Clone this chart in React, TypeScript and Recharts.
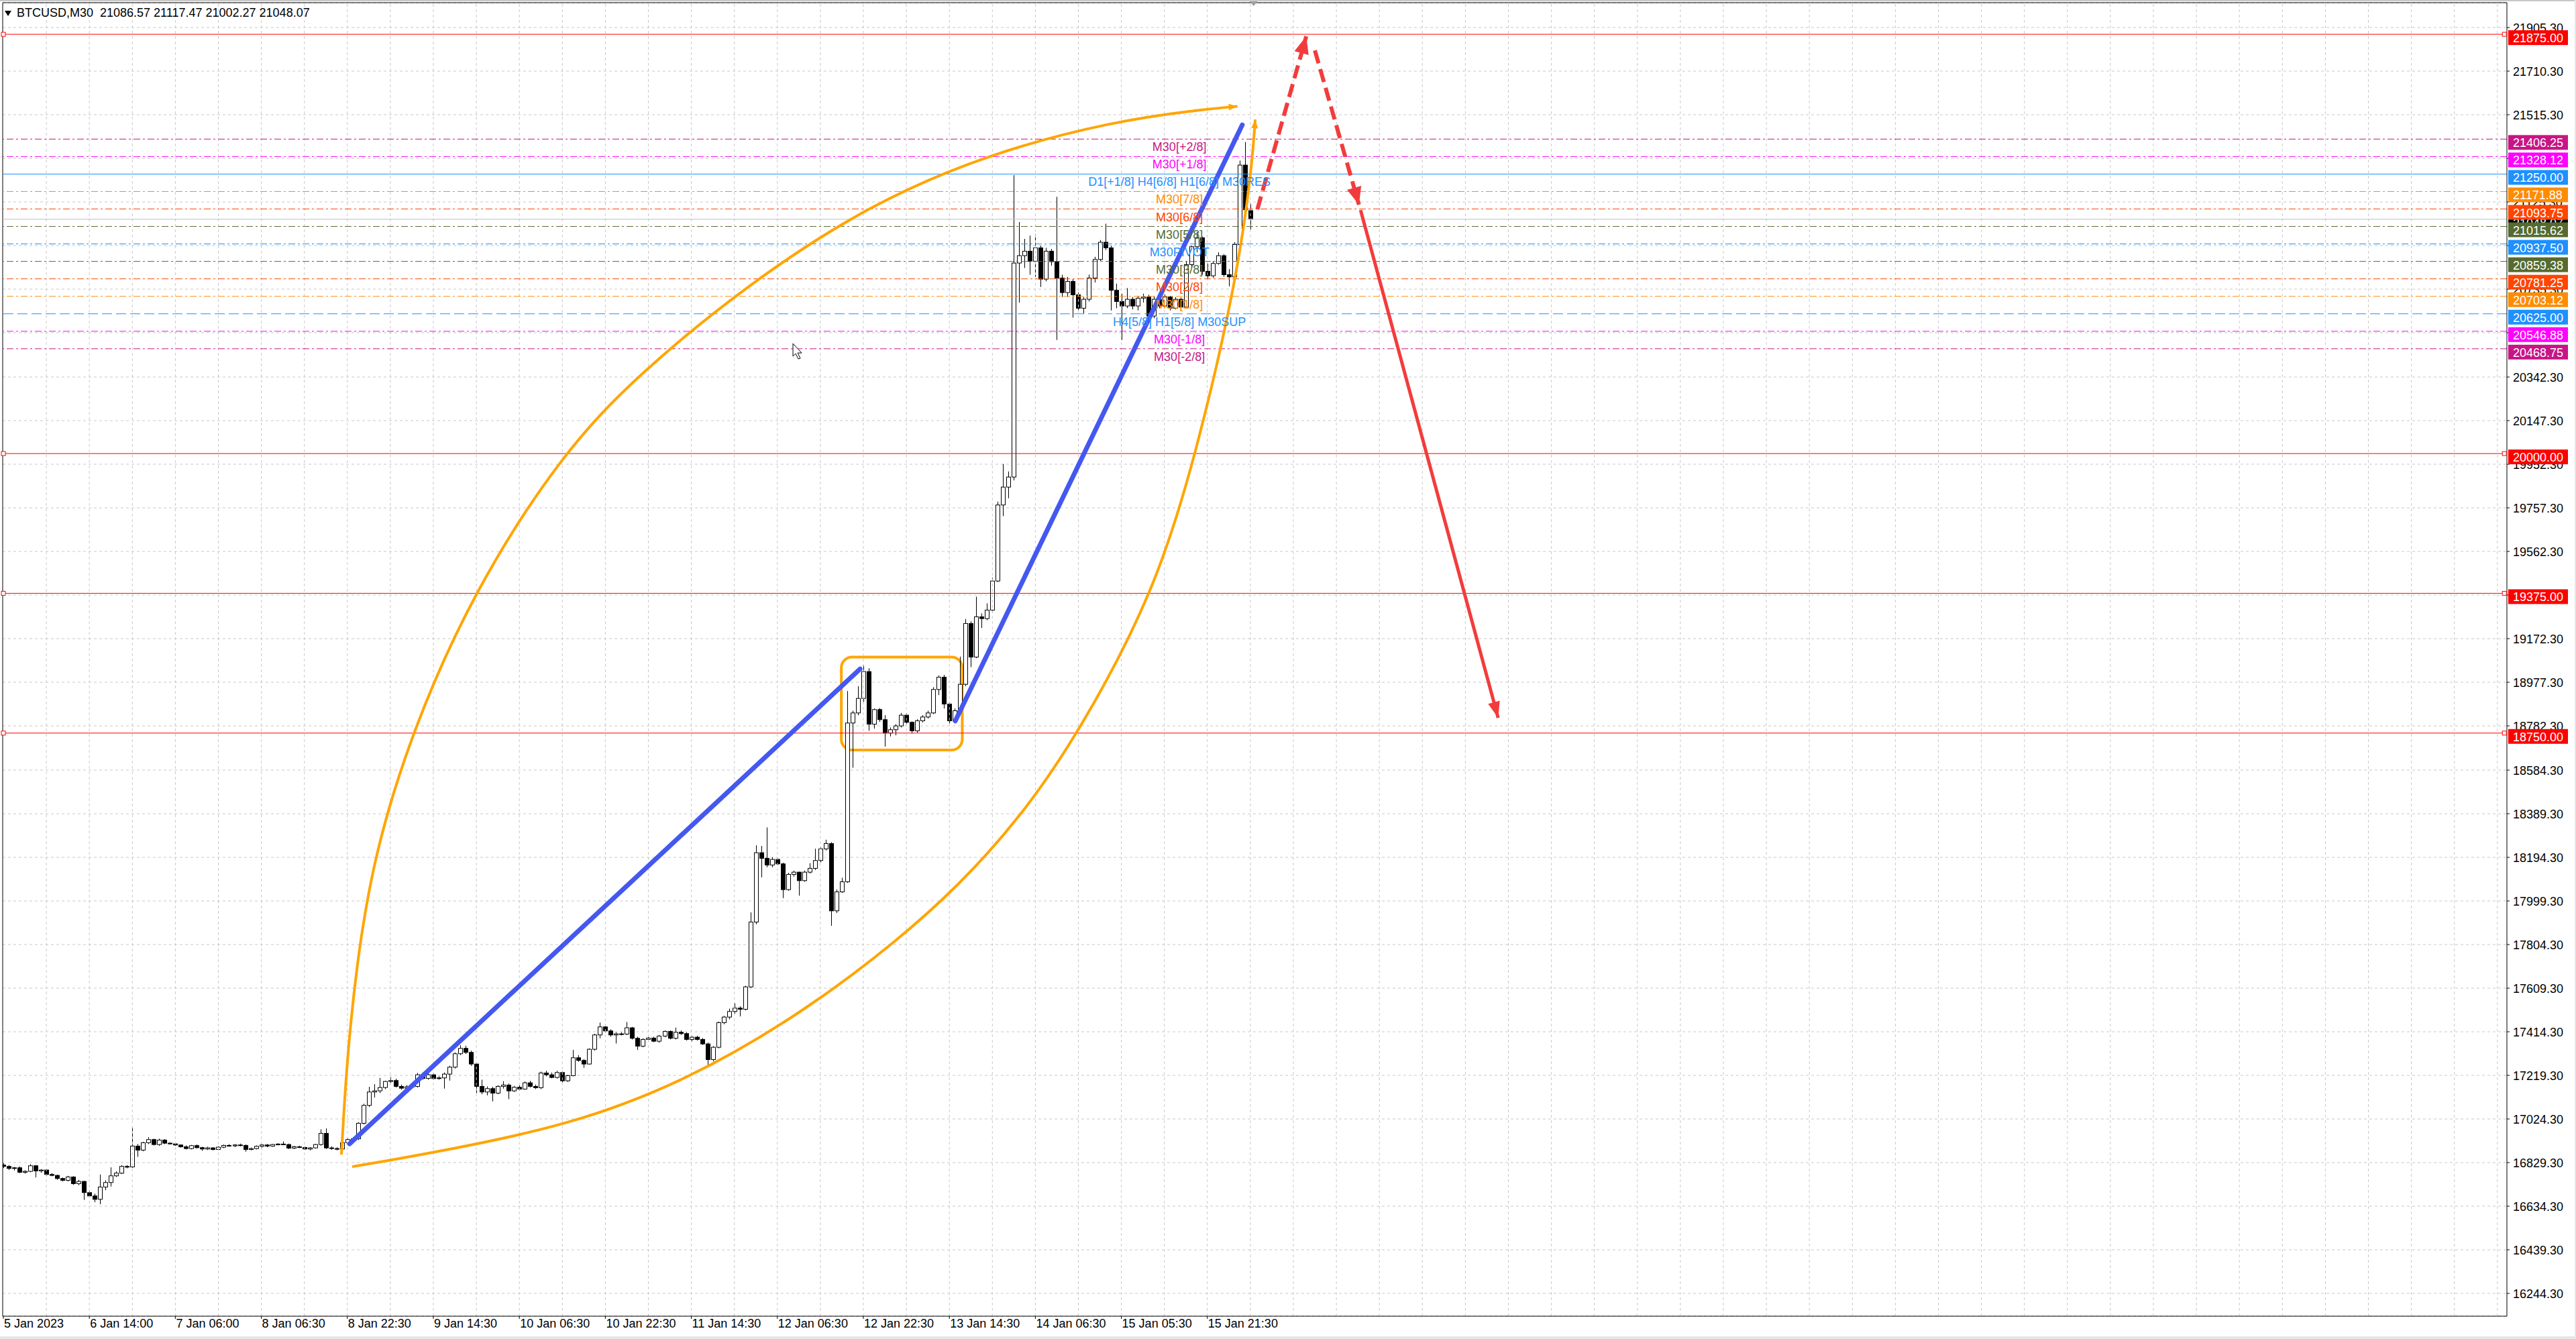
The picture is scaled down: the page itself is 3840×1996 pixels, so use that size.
import React from "react";
import { ComposedChart, Bar, Line, XAxis, YAxis, CartesianGrid, ReferenceLine, ReferenceDot, ReferenceArea } from "recharts";

const W = 3840;
const H = 1996;
const FONT = '"Liberation Sans", Arial, sans-serif';

// bar index axis (1h candles) and price axis
const XMIN = -0.125;
const XMAX = 465.77;
const YMIN = 16142.3;
const YMAX = 22016.3;
const PX_PER_BAR = 8.0125;
const PX_PER_USD = 1 / 3;

// hourly candles: open, high, low, close
const ohlc: number[][] = [
  [16818,16826,16805,16812],[16812,16818,16796,16803],[16803,16810,16794,16806],[16806,16812,16782,16786],[16786,16795,16780,16790],[16790,16822,16786,16815],[16815,16818,16763,16792],[16792,16800,16784,16796],
  [16796,16800,16770,16776],[16776,16782,16768,16772],[16772,16775,16752,16758],[16758,16762,16745,16750],[16750,16770,16745,16765],[16765,16768,16730,16735],[16735,16752,16728,16745],[16745,16748,16662,16695],
  [16695,16705,16676,16680],[16680,16690,16652,16665],[16665,16776,16643,16720],[16720,16750,16706,16740],[16740,16808,16722,16770],[16770,16790,16765,16782],[16782,16818,16778,16812],[16812,16818,16804,16810],
  [16810,16988,16806,16903],[16903,16912,16855,16885],[16885,16922,16880,16918],[16918,16943,16912,16932],[16932,16936,16906,16910],[16910,16936,16904,16930],[16930,16934,16912,16916],[16916,16920,16910,16913],
  [16913,16916,16904,16908],[16908,16910,16896,16900],[16900,16906,16888,16892],[16892,16908,16888,16905],[16905,16910,16892,16896],[16896,16900,16882,16890],[16890,16900,16886,16895],[16895,16898,16884,16888],
  [16888,16902,16885,16898],[16898,16910,16894,16906],[16906,16912,16900,16904],[16904,16912,16898,16908],[16908,16914,16902,16906],[16906,16910,16878,16888],[16888,16896,16884,16892],[16892,16906,16888,16902],
  [16902,16912,16896,16908],[16908,16912,16898,16903],[16903,16912,16900,16910],[16910,16916,16906,16912],[16912,16924,16908,16910],[16910,16914,16890,16894],[16894,16904,16890,16900],[16900,16904,16894,16897],
  [16897,16900,16886,16890],[16890,16898,16884,16895],[16895,16912,16892,16910],[16910,16978,16905,16960],[16960,16982,16890,16895],[16895,16902,16886,16892],[16892,16898,16884,16890],[16890,16922,16886,16918],
  [16918,16938,16912,16932],[16932,16942,16926,16936],[16936,17010,16930,17005],[17005,17092,17000,17085],[17085,17168,17078,17145],[17145,17180,17120,17150],[17150,17208,17140,17165],[17165,17195,17158,17192],
  [17192,17212,17185,17196],[17196,17204,17165,17170],[17170,17178,17155,17162],[17162,17176,17150,17168],[17168,17178,17160,17170],[17170,17230,17165,17222],[17222,17232,17200,17206],[17206,17228,17200,17222],
  [17222,17228,17200,17205],[17205,17215,17200,17208],[17208,17232,17160,17225],[17225,17262,17196,17256],[17256,17322,17250,17316],[17316,17354,17310,17340],[17340,17352,17315,17322],[17322,17330,17262,17270],
  [17270,17275,17140,17170],[17170,17200,17135,17145],[17145,17170,17130,17160],[17160,17168,17103,17140],[17140,17175,17135,17170],[17170,17193,17160,17176],[17176,17182,17113,17150],[17150,17172,17145,17166],
  [17166,17175,17150,17158],[17158,17192,17155,17186],[17186,17195,17165,17170],[17170,17178,17158,17164],[17164,17236,17158,17230],[17230,17240,17215,17222],[17222,17232,17206,17210],[17210,17240,17205,17232],
  [17232,17236,17188,17195],[17195,17222,17190,17218],[17218,17333,17215,17298],[17298,17310,17280,17286],[17286,17292,17253,17270],[17270,17340,17268,17336],[17336,17405,17330,17400],[17400,17455,17385,17436],
  [17436,17442,17412,17418],[17418,17425,17392,17400],[17400,17412,17362,17405],[17405,17412,17398,17404],[17404,17458,17400,17432],[17432,17436,17380,17385],[17385,17392,17333,17350],[17350,17385,17345,17380],
  [17380,17392,17370,17386],[17386,17392,17368,17372],[17372,17400,17365,17395],[17395,17420,17390,17416],[17416,17420,17380,17385],[17385,17433,17380,17412],[17412,17420,17400,17406],[17406,17412,17375,17380],
  [17380,17395,17372,17390],[17390,17396,17375,17380],[17380,17386,17355,17360],[17360,17366,17263,17290],[17290,17350,17282,17345],[17345,17460,17340,17455],[17455,17485,17448,17480],[17480,17518,17470,17505],
  [17505,17542,17495,17520],[17520,17528,17483,17515],[17515,17620,17510,17615],[17615,17948,17610,17905],[17905,18248,17895,18215],[18215,18245,18105,18190],[18190,18328,18150,18160],[18160,18195,18150,18185],
  [18185,18190,18160,18165],[18165,18170,18012,18050],[18050,18125,18045,18118],[18118,18135,18108,18128],[18128,18130,18023,18090],[18090,18135,18085,18128],[18128,18168,18122,18145],[18145,18233,18138,18180],
  [18180,18240,18172,18232],[18232,18273,18225,18256],[18256,18262,17888,17955],[17955,18050,17945,18040],[18040,18103,18035,18085],[18085,18938,18080,18795],[18795,18850,18595,18840],[18840,18960,18830,18905],
  [18905,19053,18890,19025],[19025,19040,18760,18790],[18790,18860,18770,18855],[18855,18862,18800,18810],[18810,18830,18690,18750],[18750,18775,18735,18765],[18765,18790,18740,18782],[18782,18840,18775,18830],
  [18830,18838,18790,18798],[18798,18802,18748,18760],[18760,18812,18752,18805],[18805,18830,18798,18822],[18822,18850,18815,18840],[18840,18955,18835,18945],[18945,19008,18920,19000],[19000,19010,18860,18880],
  [18880,18888,18792,18805],[18805,18860,18800,18850],[18850,19092,18845,18968],[18968,19260,18960,19240],[19240,19250,19045,19090],[19090,19360,19085,19270],[19270,19285,19220,19262],[19262,19330,19255,19300],
  [19300,19445,19290,19430],[19430,19785,19425,19770],[19770,19953,19720,19850],[19850,19920,19800,19895],[19895,21245,19880,20852],[20852,21035,20675,20885],[20885,20960,20830,20905],[20905,20975,20800,20860],
  [20860,20980,20790,20920],[20920,20930,20745,20780],[20780,20920,20770,20905],[20905,20915,20840,20858],[20858,21148,20508,20785],[20785,20800,20700,20720],[20720,20790,20700,20770],[20770,20780,20608,20710],
  [20710,20720,20630,20650],[20650,20700,20625,20690],[20690,20800,20680,20785],[20785,20880,20765,20868],[20868,20955,20860,20945],[20945,21028,20910,20920],[20920,20930,20640,20730],[20730,20760,20650,20680],
  [20680,20715,20508,20660],[20660,20740,20650,20690],[20690,20700,20645,20660],[20660,20705,20640,20695],[20695,20715,20675,20700],[20700,20710,20600,20615],[20615,20705,20605,20690],[20690,20720,20650,20660],
  [20660,20712,20655,20700],[20700,20705,20640,20650],[20650,20700,20645,20690],[20690,20698,20640,20655],[20655,20860,20650,20845],[20845,20930,20830,20925],[20925,20990,20900,20965],[20965,20970,20800,20815],
  [20815,20850,20780,20795],[20795,20860,20785,20850],[20850,20900,20845,20885],[20885,20892,20790,20800],[20800,20825,20748,20790],[20790,20945,20785,20935],[20935,21310,20930,21290],[21290,21393,21080,21090],
  [21086.57,21117.47,21002.27,21048.07],
];

const priceTicks = [21905.3, 21710.3, 21515.3, 21320.3, 21125.3, 20930.3, 20735.3, 20540.3, 20342.3, 20147.3, 19952.3, 19757.3, 19562.3, 19367.3, 19172.3, 18977.3, 18782.3, 18584.3, 18389.3, 18194.3, 17999.3, 17804.3, 17609.3, 17414.3, 17219.3, 17024.3, 16829.3, 16634.3, 16439.3, 16244.3];

const timeTicks = [0, 16, 32, 48, 64, 80, 96, 112, 128, 144, 160, 176, 192, 208, 224];
const timeLabels = ["5 Jan 2023", "6 Jan 14:00", "7 Jan 06:00", "8 Jan 06:30", "8 Jan 22:30", "9 Jan 14:30", "10 Jan 06:30", "10 Jan 22:30", "11 Jan 14:30", "12 Jan 06:30", "12 Jan 22:30", "13 Jan 14:30", "14 Jan 06:30", "15 Jan 05:30", "15 Jan 21:30"];

// murrey math levels
const levelPrices = [21406.25, 21328.12, 21250.0, 21171.88, 21093.75, 21015.62, 20937.5, 20859.38, 20781.25, 20703.12, 20625.0, 20546.88, 20468.75];
const levelNames = ["M30[+2/8]", "M30[+1/8]", "D1[+1/8] H4[6/8] H1[6/8] M30RES", "M30[7/8]", "M30[6/8]", "M30[5/8]", "M30PIVOT", "M30[3/8]", "M30[2/8]", "M30[1/8]", "H4[5/8] H1[5/8] M30SUP", "M30[-1/8]", "M30[-2/8]"];
const levelColors = ["#C71585", "#FF00FF", "#1E90FF", "#FF8C00", "#FF4500", "#556B2F", "#1E90FF", "#556B2F", "#FF4500", "#FF8C00", "#1E90FF", "#FF00FF", "#C71585"];
const levelDash = ["10 4 3 4", "10 4 3 4", "", "10 4 3 4", "10 4 3 4", "10 4 3 4", "10 4 3 4", "10 4 3 4", "10 4 3 4", "10 4 3 4", "15 6", "10 4 3 4", "10 4 3 4"];
const LABEL_I = 218.8;

const redLevels = [21875, 20000, 19375, 18750];

// drawn objects, in (bar index, price)
const blueTrend1 = [{ i: 64.4, p: 16913 }, { i: 159.4, p: 19037 }];
const blueTrend2 = [{ i: 177.1, p: 18804 }, { i: 230.5, p: 21470 }];
const arcUpper = [
  { i: 62.9, p: 16865 }, { i: 63.8, p: 17250 }, { i: 65.6, p: 17700 }, { i: 68.9, p: 18200 }, { i: 76.0, p: 18758 }, { i: 87.4, p: 19382 },
  { i: 104.0, p: 20003 }, { i: 118.1, p: 20354 }, { i: 138.4, p: 20756 }, { i: 161.0, p: 21113 }, { i: 183.6, p: 21344 },
  { i: 206.3, p: 21485 }, { i: 222.0, p: 21536 }, { i: 229.6, p: 21553 },
];
const arcLower = [
  { i: 64.9, p: 16811 }, { i: 72.0, p: 16840 }, { i: 81.9, p: 16883 }, { i: 104.5, p: 16991 }, { i: 127.1, p: 17192 }, { i: 149.8, p: 17516 },
  { i: 166.6, p: 17828 }, { i: 177.5, p: 18062 }, { i: 189.3, p: 18374 }, { i: 200.3, p: 18758 }, { i: 214.2, p: 19382 },
  { i: 222.0, p: 20003 }, { i: 229.6, p: 20789 }, { i: 232.3, p: 21287 }, { i: 232.9, p: 21494 },
];
const redUp = [{ i: 233.3, p: 21092 }, { i: 242.4, p: 21866 }];
const redDown = [{ i: 244.0, p: 21803 }, { i: 252.2, p: 21113 }];
const redDrop = [{ i: 252.5, p: 21089 }, { i: 278.1, p: 18818 }];
const boxBars = [155.9, 178.4];
const boxPrices = [18674, 19090];
const cursorAt = { i: 146.9, p: 20492 };

const candles = ohlc.map(([o, h, l, c], i) => ({ i, o, h, l, c }));
const last = ohlc[ohlc.length - 1];
const gridX = Array.from({ length: 58 }, (_, k) => 8 * (k + 1));

function Candle(props: any) {
  const { x, y, width, height, payload } = props;
  if (x == null || !payload) return null;
  const { o, h, l, c } = payload;
  const range = h - l || 1;
  const yOf = (v: number) => y + ((h - v) / range) * height;
  const cx = Math.round(x + width / 2) + 0.5;
  const top = yOf(Math.max(o, c));
  const bot = yOf(Math.min(o, c));
  return (
    <g>
      <line x1={cx} x2={cx} y1={y} y2={y + height} stroke="#000" strokeWidth={1} />
      <rect x={cx - 3} y={top} width={6} height={Math.max(1, bot - top)} fill={c >= o ? "#fff" : "#000"} stroke="#000" strokeWidth={1} />
    </g>
  );
}

function arrowDot(data: { i: number; p: number }[], color: string, len: number, half: number) {
  return (props: any) => {
    const { cx, cy, index } = props;
    if (index !== data.length - 1 || cx == null) return <g key={`n${index}`} />;
    const a = data[index - 1];
    const b = data[index];
    const dx = (b.i - a.i) * PX_PER_BAR;
    const dy = -(b.p - a.p) * PX_PER_USD;
    const L = Math.hypot(dx, dy) || 1;
    const ux = dx / L;
    const uy = dy / L;
    const bx = cx - ux * len;
    const by = cy - uy * len;
    const pts = `${cx},${cy} ${bx - uy * half},${by + ux * half} ${bx + uy * half},${by - ux * half}`;
    return <polygon key={`a${index}`} points={pts} fill={color} />;
  };
}

const XTick = (props: any) => {
  const { x, y, payload } = props;
  const k = timeTicks.indexOf(payload.value);
  return (
    <text x={x + 1} y={y + 11} fontSize={18} fontFamily={FONT} fill="#000" textAnchor="start">
      {timeLabels[k]}
    </text>
  );
};

const EmptyTick = () => <g />;

// price labels drawn as reference dots so the level badges can sit above them
const priceLabel = (v: number) => (p: any) => (
  <text x={p.cx + 9} y={p.cy + 6.5} fontSize={18} fontFamily={FONT} fill="#000">{v.toFixed(2)}</text>
);

const badge = (price: number, color: string) => (p: any) => (
  <g>
    <rect x={p.cx + 2} y={p.cy - 6} width={89} height={22} fill={color} />
    <text x={p.cx + 9} y={p.cy + 12} fontSize={18} fontFamily={FONT} fill="#fff">{price.toFixed(2)}</text>
  </g>
);

const anchorSquare = (p: any) => <rect x={p.cx - 3} y={p.cy - 3} width={6} height={6} fill="#fff" stroke="#FF0000" strokeWidth={1} />;

const cursorShape = (p: any) => {
  const x = p.cx;
  const y = p.cy;
  const pts = [[0, 0], [0, 19], [4, 15], [8, 23], [11, 22], [7, 14], [13, 14]].map(([a, b]) => `${x + a},${y + b}`).join(" ");
  return <polygon points={pts} fill="#fff" stroke="#000" strokeWidth={1} />;
};

export default function App() {
  return (
    <div style={{ position: "absolute", left: 0, top: 0, width: W, height: H, background: "#fff", overflow: "hidden" }}>
      <ComposedChart width={W} height={H} data={candles} margin={{ top: 4, right: 0, bottom: 0, left: 4 }}>
        <CartesianGrid vertical={false} stroke="#C8C8C8" strokeDasharray="4 4" />
        {gridX.map((v) => (
          <ReferenceLine key={`gx${v}`} x={v} stroke="#C8C8C8" strokeDasharray="4 4" />
        ))}
        <XAxis
          type="number"
          dataKey="i"
          domain={[XMIN, XMAX]}
          allowDataOverflow
          ticks={timeTicks}
          interval={0}
          height={34}
          tick={<XTick />}
          tickSize={4}
          tickLine={{ stroke: "#000" }}
          axisLine={{ stroke: "#000" }}
        />
        <YAxis
          orientation="right"
          type="number"
          domain={[YMIN, YMAX]}
          allowDataOverflow
          ticks={priceTicks}
          interval={0}
          width={103}
          tick={<EmptyTick />}
          tickSize={4}
          tickLine={{ stroke: "#000" }}
          axisLine={{ stroke: "#000" }}
        />
        <ReferenceLine y={YMAX} stroke="#000" />
        <ReferenceLine x={XMIN} stroke="#000" />

        {levelPrices.map((lv, k) => (
          <ReferenceLine key={`lv${k}`} y={lv} stroke={levelColors[k]} strokeWidth={1} strokeDasharray={levelDash[k] || undefined} />
        ))}
        <ReferenceLine y={last[3]} stroke="#C0C0C0" strokeWidth={1} />
        {redLevels.map((lv) => (
          <ReferenceLine key={`rl${lv}`} y={lv} stroke="#FF0000" strokeWidth={1} />
        ))}

        <Bar dataKey={(d: any) => [d.l, d.h]} barSize={6} shape={(p: any) => <Candle {...p} />} isAnimationActive={false} />

        {levelPrices.map((lv, k) => (
          <ReferenceDot
            key={`lt${k}`}
            x={LABEL_I}
            y={lv}
            r={0}
            ifOverflow="visible"
            shape={(p: any) => (
              <text x={p.cx} y={p.cy + 18} textAnchor="middle" fontSize={18} fontFamily={FONT} fill={levelColors[k]}>
                {levelNames[k]}
              </text>
            )}
          />
        ))}

        <ReferenceArea
          x1={boxBars[0]}
          x2={boxBars[1]}
          y1={boxPrices[0]}
          y2={boxPrices[1]}
          fill="none"
          fillOpacity={0}
          stroke="#FFA500"
          strokeWidth={4}
          radius={16}
          ifOverflow="visible"
        />
        <Line data={blueTrend1} dataKey="p" type="linear" stroke="#4458F0" strokeWidth={7} strokeLinecap="round" dot={false} isAnimationActive={false} />
        <Line data={blueTrend2} dataKey="p" type="linear" stroke="#4458F0" strokeWidth={7} strokeLinecap="round" dot={false} isAnimationActive={false} />
        <Line data={arcUpper} dataKey="p" type="basis" stroke="#FFA500" strokeWidth={4} dot={arrowDot(arcUpper, "#FFA500", 13, 5)} isAnimationActive={false} />
        <Line data={arcLower} dataKey="p" type="basis" stroke="#FFA500" strokeWidth={4} dot={arrowDot(arcLower, "#FFA500", 13, 5)} isAnimationActive={false} />
        <Line data={redUp} dataKey="p" type="linear" stroke="#F23C3C" strokeWidth={6} strokeDasharray="20 9" dot={arrowDot(redUp, "#F23C3C", 26, 11)} isAnimationActive={false} />
        <Line data={redDown} dataKey="p" type="linear" stroke="#F23C3C" strokeWidth={6} strokeDasharray="20 9" dot={arrowDot(redDown, "#F23C3C", 26, 11)} isAnimationActive={false} />
        <Line data={redDrop} dataKey="p" type="linear" stroke="#F23C3C" strokeWidth={5} dot={arrowDot(redDrop, "#F23C3C", 24, 9)} isAnimationActive={false} />

        {priceTicks.map((v) => (
          <ReferenceDot key={`pt${v}`} x={XMAX} y={v} r={0} ifOverflow="visible" shape={priceLabel(v)} />
        ))}
        <ReferenceDot x={XMAX} y={last[3]} r={0} ifOverflow="visible" shape={badge(last[3], "#000")} />
        {levelPrices.map((lv, k) => (
          <ReferenceDot key={`bd${k}`} x={XMAX} y={lv} r={0} ifOverflow="visible" shape={badge(lv, levelColors[k])} />
        ))}
        {redLevels.map((lv) => (
          <ReferenceDot key={`rb${lv}`} x={XMAX} y={lv} r={0} ifOverflow="visible" shape={badge(lv, "#FF0000")} />
        ))}
        {redLevels.map((lv) => (
          <ReferenceDot key={`sl${lv}`} x={0} y={lv} r={0} ifOverflow="visible" shape={anchorSquare} />
        ))}
        {redLevels.map((lv) => (
          <ReferenceDot key={`sr${lv}`} x={465.3} y={lv} r={0} ifOverflow="visible" shape={anchorSquare} />
        ))}
        <ReferenceDot x={cursorAt.i} y={cursorAt.p} r={0} ifOverflow="visible" shape={cursorShape} />
        <ReferenceDot
          x={232.6}
          y={YMAX}
          r={0}
          ifOverflow="visible"
          shape={(p: any) => <polygon points={`${p.cx - 7},${p.cy - 3} ${p.cx + 7},${p.cy - 3} ${p.cx},${p.cy + 5}`} fill="#A0A0A0" />}
        />
      </ComposedChart>

      <div style={{ position: "absolute", left: 7, top: 9, display: "flex", alignItems: "center", font: `18px ${FONT}`, color: "#000", whiteSpace: "pre" }}>
        <svg width={10} height={8} style={{ marginRight: 8 }}>
          <polygon points="0,0 10,0 5,8" fill="#000" />
        </svg>
        <span>{`BTCUSD,M30  ${last[0].toFixed(2)} ${last[1].toFixed(2)} ${last[2].toFixed(2)} ${last[3].toFixed(2)}`}</span>
      </div>
      <div style={{ position: "absolute", left: 0, top: 0, width: W, height: 2, background: "#C8C8C8" }} />
      <div style={{ position: "absolute", left: 0, top: H - 4, width: W, height: 4, background: "#E6E6E6" }} />
      <div style={{ position: "absolute", left: W - 2, top: 0, width: 2, height: H, background: "#E6E6E6" }} />
    </div>
  );
}
